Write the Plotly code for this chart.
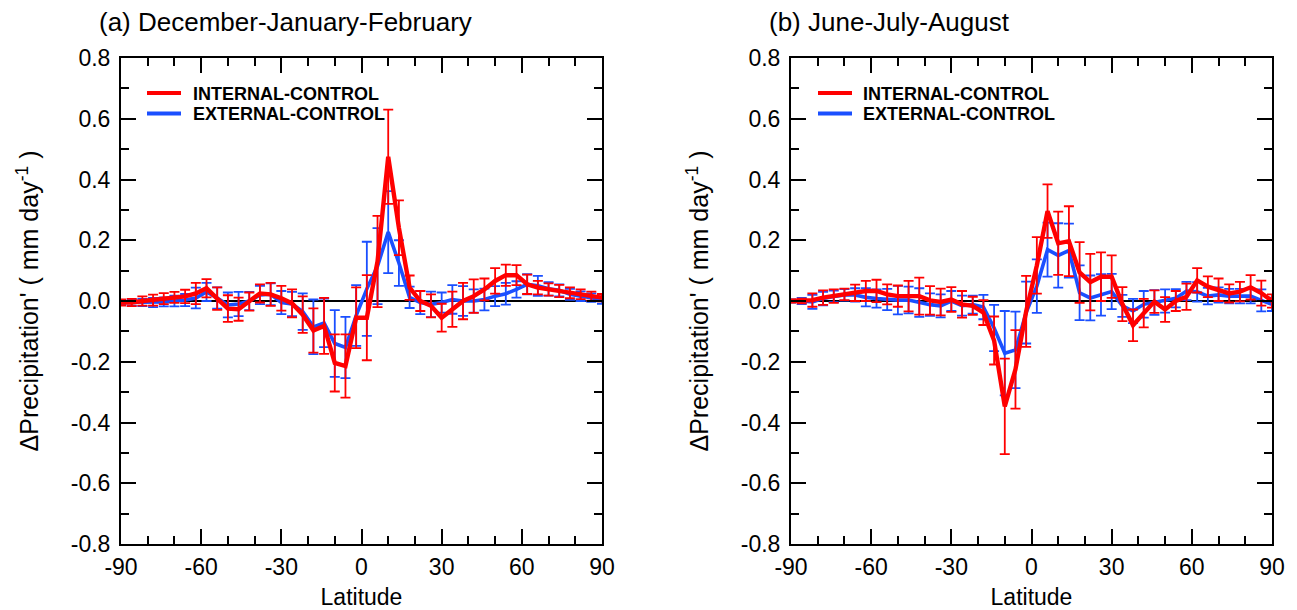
import plotly.graph_objects as go

# ---------------- data ----------------
lat = [-90, -86, -82, -78, -74, -70, -66, -62, -58, -54, -50, -46, -42, -38, -34, -30,
       -26, -22, -18, -14, -10, -6, -2, 2, 6, 10, 14, 18, 22, 26, 30, 34, 38, 42, 46,
       50, 54, 58, 62, 66, 70, 74, 78, 82, 86, 90]

# (a) December-January-February
djf_internal = [-0.005, -0.005, 0.0, 0.003, 0.008, 0.012, 0.015, 0.025, 0.042, 0.008,
                -0.025, -0.027, -0.002, 0.025, 0.022, 0.009, -0.008, -0.045, -0.097, -0.082,
                -0.204, -0.214, -0.055, -0.055, 0.13, 0.475, 0.241, 0.044, 0.0, -0.016,
                -0.055, -0.027, 0.0, 0.016, 0.038, 0.066, 0.085, 0.085, 0.055, 0.044,
                0.038, 0.033, 0.027, 0.022, 0.016, 0.011]
djf_internal_err = [0.01, 0.012, 0.015, 0.018, 0.018, 0.018, 0.022, 0.035, 0.03, 0.037,
                    0.044, 0.038, 0.03, 0.03, 0.038, 0.041, 0.046, 0.06, 0.073, 0.092,
                    0.094, 0.104, 0.1, 0.14, 0.15, 0.155, 0.09, 0.04, 0.033, 0.038,
                    0.046, 0.058, 0.06, 0.055, 0.036, 0.042, 0.035, 0.033, 0.032, 0.022,
                    0.02, 0.02, 0.018, 0.016, 0.015, 0.012]
djf_external = [-0.005, -0.005, -0.005, -0.005, -0.003, 0.0, 0.003, 0.01, 0.03, 0.01,
                -0.013, -0.01, 0.0, 0.02, 0.022, -0.005, -0.01, -0.035, -0.085, -0.072,
                -0.14, -0.153, -0.048, 0.04, 0.115, 0.227, 0.125, 0.012, -0.005, -0.011,
                -0.005, 0.005, 0.0, 0.0, 0.005, 0.016, 0.024, 0.038, 0.055, 0.05,
                0.04, 0.035, 0.022, 0.016, 0.011, 0.003]
djf_external_err = [0.008, 0.01, 0.012, 0.015, 0.015, 0.018, 0.02, 0.034, 0.03, 0.035,
                    0.041, 0.04, 0.03, 0.03, 0.036, 0.038, 0.04, 0.06, 0.09, 0.08,
                    0.11, 0.101, 0.1, 0.155, 0.125, 0.135, 0.075, 0.035, 0.038, 0.042,
                    0.033, 0.047, 0.049, 0.038, 0.036, 0.033, 0.036, 0.027, 0.033, 0.033,
                    0.022, 0.02, 0.018, 0.016, 0.014, 0.012]

# (b) June-July-August
jja_internal = [0.0, 0.0, 0.003, 0.011, 0.016, 0.022, 0.027, 0.033, 0.033, 0.022,
                0.016, 0.016, 0.016, 0.002, -0.003, 0.005, -0.011, -0.016, -0.038, -0.13,
                -0.347, -0.225, -0.034, 0.117, 0.296, 0.19, 0.197, 0.094, 0.062, 0.08,
                0.08, -0.01, -0.08, -0.04, -0.002, -0.028, 0.0, 0.014, 0.068, 0.047,
                0.037, 0.025, 0.031, 0.045, 0.026, 0.0]
jja_internal_err = [0.005, 0.008, 0.022, 0.024, 0.022, 0.019, 0.027, 0.033, 0.037, 0.033,
                    0.035, 0.05, 0.061, 0.047, 0.044, 0.041, 0.044, 0.03, 0.041, 0.079,
                    0.157, 0.129, 0.117, 0.093, 0.088, 0.104, 0.115, 0.1, 0.093, 0.08,
                    0.07, 0.056, 0.052, 0.047, 0.037, 0.041, 0.033, 0.043, 0.04, 0.034,
                    0.037, 0.03, 0.032, 0.04, 0.041, 0.022]
jja_external = [0.0, 0.0, -0.003, 0.008, 0.015, 0.02, 0.02, 0.012, 0.008, 0.005,
                0.003, 0.003, -0.005, -0.012, -0.016, 0.0, -0.015, -0.012, -0.02, -0.089,
                -0.172, -0.161, -0.038, 0.049, 0.169, 0.15, 0.166, 0.027, 0.01, 0.02,
                0.031, -0.016, -0.033, -0.011, -0.005, 0.0, 0.009, 0.033, 0.03, 0.016,
                0.02, 0.016, 0.016, 0.016, 0.002, -0.011]
jja_external_err = [0.005, 0.01, 0.023, 0.022, 0.019, 0.019, 0.022, 0.03, 0.03, 0.035,
                    0.047, 0.044, 0.047, 0.037, 0.038, 0.033, 0.033, 0.03, 0.04, 0.076,
                    0.139, 0.126, 0.102, 0.088, 0.089, 0.106, 0.089, 0.09, 0.074, 0.068,
                    0.058, 0.036, 0.04, 0.044, 0.041, 0.038, 0.03, 0.03, 0.032, 0.027,
                    0.025, 0.024, 0.024, 0.024, 0.036, 0.022]

series_names = ["INTERNAL-CONTROL", "EXTERNAL-CONTROL"]
panel_titles = ["(a) December-January-February", "(b) June-July-August"]
x_tickvals = [-90, -60, -30, 0, 30, 60, 90]
x_ticktext = ["-90", "-60", "-30", "0", "30", "60", "90"]
y_tickvals = [-0.8, -0.6, -0.4, -0.2, 0.0, 0.2, 0.4, 0.6, 0.8]
y_ticktext = ["-0.8", "-0.6", "-0.4", "-0.2", "0.0", "0.2", "0.4", "0.6", "0.8"]
x_title = "Latitude"
y_title = "ΔPrecipitation' ( mm day<sup>-1</sup> )"

# ---------------- style ----------------
RED = "#ff0000"
BLUE = "#1a4fff"
FONT = "Liberation Sans, Arial, Helvetica, sans-serif"

fig = go.Figure()

panels = [
    ("x", "y", djf_internal, djf_internal_err, djf_external, djf_external_err),
    ("x2", "y2", jja_internal, jja_internal_err, jja_external, jja_external_err),
]

for xa, ya, vi, ei, ve, ee in panels:
    # external (blue) first so the red one lies on top
    fig.add_trace(go.Scatter(
        x=lat, y=ve, mode="lines", name=series_names[1], xaxis=xa, yaxis=ya,
        showlegend=False,
        line=dict(color=BLUE, width=3.6),
        error_y=dict(type="data", array=ee, visible=True, color=BLUE,
                     thickness=1.8, width=5),
    ))
    fig.add_trace(go.Scatter(
        x=lat, y=vi, mode="lines", name=series_names[0], xaxis=xa, yaxis=ya,
        showlegend=False,
        line=dict(color=RED, width=4.4),
        error_y=dict(type="data", array=ei, visible=True, color=RED,
                     thickness=1.8, width=5),
    ))

L, R, T, B = 121, 1272, 58, 544
W, H = R - L, B - T
dom_a = [0, (602 - L) / W]
dom_b = [(791 - L) / W, 1]


def px(xp):
    return (xp - L) / W


def py(yp):
    return 1 - (yp - T) / H


xaxis_common = dict(
    range=[-90, 90], tickvals=x_tickvals, ticktext=x_ticktext,
    ticks="inside", ticklen=15, tickwidth=2, tickcolor="black",
    minor=dict(dtick=10, ticks="inside", ticklen=8, tickwidth=1.5, tickcolor="black"),
    showline=True, linewidth=2, linecolor="black", mirror="ticks",
    showgrid=False, zeroline=False, automargin=False,
    tickfont=dict(family=FONT, size=23, color="black"),
    ticklabelstandoff=1,
    title=dict(text=x_title, font=dict(family=FONT, size=23, color="black"), standoff=11),
)
yaxis_common = dict(
    range=[-0.8, 0.8], tickvals=y_tickvals, ticktext=y_ticktext,
    ticks="inside", ticklen=15, tickwidth=2, tickcolor="black",
    minor=dict(dtick=0.1, ticks="inside", ticklen=8, tickwidth=1.5, tickcolor="black"),
    showline=True, linewidth=2, linecolor="black", mirror="ticks",
    showgrid=False, zeroline=True, zerolinecolor="black", zerolinewidth=1.5,
    automargin=False,
    tickfont=dict(family=FONT, size=23, color="black"),
    title=dict(text=y_title, font=dict(family=FONT, size=25, color="black"), standoff=25),
    ticklabelstandoff=4,
)

# legend drawn as paper-anchored samples + labels (one legend per panel)
legend_specs = [(147, 181, 191), (818, 852, 861)]
legend_rows = [(93, RED, series_names[0]), (113.5, BLUE, series_names[1])]
shapes = []
annotations = []
for x0, x1, xt in legend_specs:
    for yrow, col, label in legend_rows:
        shapes.append(dict(type="line", xref="paper", yref="paper",
                           x0=px(x0), x1=px(x1), y0=py(yrow), y1=py(yrow),
                           line=dict(color=col, width=4)))
        annotations.append(dict(text="<b>%s</b>" % label, xref="paper", yref="paper",
                                x=px(xt), y=py(yrow + 0.5), xanchor="left", yanchor="middle",
                                showarrow=False,
                                font=dict(family=FONT, size=18, color="black")))

for title, xt in zip(panel_titles, (97, 767)):
    annotations.append(dict(text=title, xref="paper", yref="paper",
                            x=px(xt), y=py(22), xanchor="left", yanchor="middle",
                            showarrow=False, font=dict(family=FONT, size=26, color="black")))

fig.update_layout(
    width=1297, height=610,
    margin=dict(l=L, r=1297 - R, t=T, b=610 - B, autoexpand=False),
    paper_bgcolor="white", plot_bgcolor="white",
    font=dict(family=FONT, color="black"),
    xaxis=dict(domain=dom_a, anchor="y", **xaxis_common),
    yaxis=dict(domain=[0, 1], anchor="x", **yaxis_common),
    xaxis2=dict(domain=dom_b, anchor="y2", **xaxis_common),
    yaxis2=dict(domain=[0, 1], anchor="x2", **yaxis_common),
    showlegend=False,
    shapes=shapes,
    annotations=annotations,
)

fig.write_html("out.html")
